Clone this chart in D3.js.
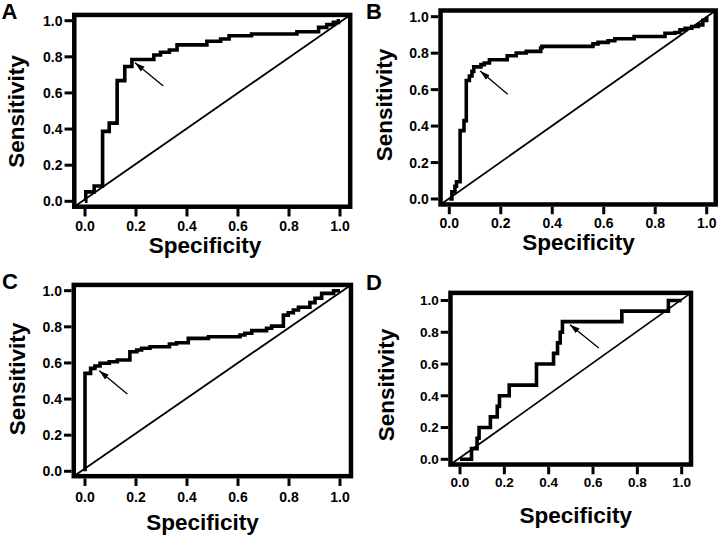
<!DOCTYPE html>
<html>
<head>
<meta charset="utf-8">
<script src="https://cdn.jsdelivr.net/npm/d3@7"></script>
<style>
  body { margin: 0; background: #fff; }
  text { font-family: "Liberation Sans", Arial, Helvetica, sans-serif; font-weight: bold; fill: #000; }
</style>
</head>
<body>
<svg id="fig" width="720" height="537"></svg>
<script>
// tick values shared by every panel
var ticks = [0, 0.2, 0.4, 0.6, 0.8, 1.0];

// ROC curves: [1 - specificity, sensitivity]
var rocA = [[0, 0], [0.003, 0.052], [0.036, 0.085], [0.069, 0.387], [0.095, 0.433], [0.126, 0.668],
    [0.156, 0.746], [0.184, 0.785], [0.27, 0.81], [0.296, 0.825], [0.331, 0.838], [0.361, 0.866],
    [0.478, 0.886], [0.532, 0.899], [0.565, 0.917], [0.653, 0.926], [0.831, 0.939], [0.916, 0.963],
    [0.948, 0.978], [0.974, 0.991], [0.994, 1.0], [1, 1]];

var rocB = [[0, 0], [0.01, 0.04], [0.022, 0.07], [0.028, 0.095], [0.042, 0.375], [0.057, 0.43],
    [0.066, 0.65], [0.078, 0.675], [0.088, 0.70], [0.095, 0.725], [0.123, 0.737], [0.136, 0.746],
    [0.156, 0.764], [0.225, 0.786], [0.26, 0.801], [0.299, 0.81], [0.355, 0.828], [0.36, 0.837],
    [0.558, 0.851], [0.578, 0.859], [0.617, 0.868], [0.643, 0.879], [0.718, 0.891], [0.838, 0.909],
    [0.877, 0.913], [0.896, 0.928], [0.916, 0.937], [0.942, 0.946], [0.968, 0.955], [0.985, 0.98], [1, 1]];

var rocC = [[0, 0], [0, 0.542], [0.022, 0.57], [0.039, 0.583], [0.059, 0.598], [0.095, 0.607],
    [0.127, 0.616], [0.176, 0.662], [0.203, 0.672], [0.222, 0.681], [0.255, 0.69], [0.331, 0.705],
    [0.359, 0.712], [0.405, 0.736], [0.484, 0.745], [0.608, 0.755], [0.627, 0.764], [0.654, 0.779],
    [0.712, 0.792], [0.732, 0.804], [0.778, 0.865], [0.797, 0.878], [0.817, 0.893], [0.837, 0.908],
    [0.882, 0.934], [0.902, 0.958], [0.928, 0.985], [0.975, 1.0], [1, 1]];

var rocD = [[0, 0], [0.052, 0.067], [0.077, 0.133], [0.086, 0.2], [0.137, 0.267], [0.168, 0.333],
    [0.178, 0.4], [0.222, 0.467], [0.345, 0.6], [0.422, 0.667], [0.44, 0.733], [0.452, 0.8],
    [0.462, 0.867], [0.73, 0.933], [0.94, 1.0], [1, 1]];

// arrows: [tail, head]
var arrowA = [[0.307, 0.638], [0.196, 0.767]];
var arrowB = [[0.227, 0.574], [0.12, 0.702]];
var arrowC = [[0.166, 0.428], [0.056, 0.557]];
var arrowD = [[0.626, 0.701], [0.496, 0.848]];

var xTitle = "Specificity";
var yTitle = "Sensitivity";

// panel placement in the 720x537 page
var panels = [
    { letter: "A", roc: rocA, arrow: arrowA, x0: 85, x1: 340, y0: 201.3, y1: 20.7,
      fx: [-0.042, 1.04], fy: [-0.03, 1.032], lx: 1.5, ly: 19, tickFont: 14, xLabY: 231,
      yt: [23.5, 111.5], xt: [205, 253] },
    { letter: "B", roc: rocB, arrow: arrowB, x0: 449.3, x1: 706.7, y0: 199, y1: 16.7,
      fx: [-0.034, 1.035], fy: [-0.03, 1.034], lx: 366, ly: 18.5, tickFont: 14, xLabY: 228.3,
      yt: [391.5, 105], xt: [578.5, 250] },
    { letter: "C", roc: rocC, arrow: arrowC, x0: 85, x1: 340, y0: 471.3, y1: 290.7,
      fx: [-0.044, 1.043], fy: [-0.027, 1.032], lx: 2, ly: 289, tickFont: 14, xLabY: 501.7,
      yt: [25, 379], xt: [202.5, 530] },
    { letter: "D", roc: rocD, arrow: arrowD, x0: 460, x1: 681.7, y0: 459.3, y1: 300.5,
      fx: [-0.043, 1.042], fy: [-0.033, 1.048], lx: 366, ly: 290, tickFont: 13.5, xLabY: 487.3,
      yt: [394, 385], xt: [575.8, 523] }
];

var svg = d3.select("#fig");

svg.append("defs").append("marker")
    .attr("id", "head")
    .attr("markerUnits", "userSpaceOnUse")
    .attr("viewBox", "0 -4 10 8")
    .attr("refX", 10)
    .attr("refY", 0)
    .attr("markerWidth", 10)
    .attr("markerHeight", 8)
    .attr("orient", "auto")
    .append("path")
    .attr("d", "M0,-3L10,0L0,3Z")
    .attr("fill", "#000");

var frameW = 4.5;
var tickLen = 7.5;

panels.forEach(function (p) {
    var x = d3.scaleLinear().domain([0, 1]).range([p.x0, p.x1]);
    var y = d3.scaleLinear().domain([0, 1]).range([p.y0, p.y1]);
    var g = svg.append("g");

    var left = x(p.fx[0]), right = x(p.fx[1]);
    var top = y(p.fy[1]), bottom = y(p.fy[0]);

    // chance line, corner to corner of the frame
    g.append("line")
        .attr("x1", left).attr("y1", bottom)
        .attr("x2", right).attr("y2", top)
        .attr("stroke", "#000").attr("stroke-width", 1.8);

    // ROC step curve
    var line = d3.line()
        .x(function (d) { return x(d[0]); })
        .y(function (d) { return y(d[1]); })
        .curve(d3.curveStepAfter);

    g.append("path")
        .datum(p.roc)
        .attr("d", line)
        .attr("fill", "none")
        .attr("stroke", "#000")
        .attr("stroke-width", 3.6)
        .attr("stroke-linejoin", "miter");

    // arrow
    g.append("line")
        .attr("x1", x(p.arrow[0][0])).attr("y1", y(p.arrow[0][1]))
        .attr("x2", x(p.arrow[1][0])).attr("y2", y(p.arrow[1][1]))
        .attr("stroke", "#000").attr("stroke-width", 1.3)
        .attr("marker-end", "url(#head)");

    // frame
    g.append("rect")
        .attr("x", left).attr("y", top)
        .attr("width", right - left).attr("height", bottom - top)
        .attr("fill", "none").attr("stroke", "#000").attr("stroke-width", frameW);

    var outL = left - frameW / 2, outB = bottom + frameW / 2;

    // y ticks
    g.selectAll(".yt").data(ticks).enter().append("line")
        .attr("x1", outL - tickLen).attr("x2", outL)
        .attr("y1", function (d) { return y(d); })
        .attr("y2", function (d) { return y(d); })
        .attr("stroke", "#000").attr("stroke-width", 3);

    g.selectAll(".yl").data(ticks).enter().append("text")
        .attr("x", outL - tickLen - 2)
        .attr("y", function (d) { return y(d); })
        .attr("dy", "0.36em")
        .attr("text-anchor", "end")
        .style("font-size", p.tickFont + "px")
        .text(function (d) { return d3.format(".1f")(d); });

    // x ticks
    g.selectAll(".xt").data(ticks).enter().append("line")
        .attr("y1", outB).attr("y2", outB + tickLen)
        .attr("x1", function (d) { return x(d); })
        .attr("x2", function (d) { return x(d); })
        .attr("stroke", "#000").attr("stroke-width", 3);

    g.selectAll(".xl").data(ticks).enter().append("text")
        .attr("x", function (d) { return x(d); })
        .attr("y", p.xLabY)
        .attr("text-anchor", "middle")
        .style("font-size", p.tickFont + "px")
        .text(function (d) { return d3.format(".1f")(d); });

    // axis titles
    g.append("text")
        .attr("x", p.xt[0]).attr("y", p.xt[1])
        .attr("text-anchor", "middle")
        .style("font-size", "22.5px")
        .text(xTitle);

    g.append("text")
        .attr("transform", "translate(" + p.yt[0] + "," + p.yt[1] + ") rotate(-90)")
        .attr("text-anchor", "middle")
        .style("font-size", "22.5px")
        .text(yTitle);

    // panel letter
    g.append("text")
        .attr("x", p.lx).attr("y", p.ly)
        .style("font-size", "22px")
        .text(p.letter);
});
</script>
</body>
</html>
